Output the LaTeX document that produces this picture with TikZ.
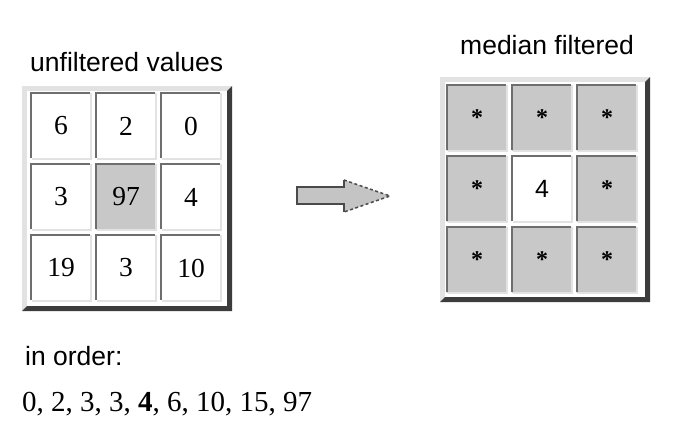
\documentclass[tikz,border=0pt]{standalone}
\usepackage{fontspec}
\setmainfont{Liberation Serif}
\newfontfamily\arialf{Liberation Sans}
\definecolor{cellgray}{HTML}{C8C8C8}
\definecolor{framelight}{HTML}{E2E2E2}
\definecolor{frameshadow}{HTML}{3C3C3C}
\definecolor{celldark}{HTML}{6E6E6E}
\definecolor{celllight}{HTML}{E2E2E2}
\definecolor{arrowfill}{HTML}{C4C4C4}
\definecolor{arrowline}{HTML}{4A4A4A}
\tikzset{
  cellbox/.style={minimum width=60pt, minimum height=66pt, inner sep=0pt, fill=white,
    font=\fontsize{27.5}{30}\selectfont},
  shadedcell/.style={cellbox, fill=cellgray},
  starcell/.style={shadedcell, font=\bfseries\fontsize{24}{26}\selectfont},
  sanslabel/.style={font=\arialf\fontsize{26.5}{30}\selectfont, inner sep=0pt},
  seriflabel/.style={font=\fontsize{29}{32}\selectfont, inner sep=0pt},
  darkedge/.style={draw=celldark, line width=1.6pt},
  lightedge/.style={draw=celllight, line width=1.6pt},
}
\newcommand{\myframe}[2]{%
  \fill[framelight] (#1,#2) rectangle ++(210,225);
  \fill[frameshadow] (#1+210,#2) -- (#1+210,#2+225) -- (#1,#2+225)
     -- (#1+5,#2+220) -- (#1+205,#2+220) -- (#1+205,#2+5) -- cycle;
  \fill[white] (#1+5,#2+5) rectangle (#1+205,#2+220);
}
\newcommand{\myedges}[1]{%
  \draw[darkedge] ([yshift=0.8pt]#1.south west) -- (#1.north west) -- ([xshift=-0.8pt]#1.north east);
  \draw[lightedge] (#1.north east) -- (#1.south east) -- ([xshift=0.8pt]#1.south west);
}
\newcommand{\cellstar}{\raisebox{-2pt}{*}}
\begin{document}
\begin{tikzpicture}[x=1pt,y=-1pt]
\useasboundingbox[fill=white] (0,0) rectangle (675,441);

% titles
\node[sanslabel, anchor=base west] (t1) at (30,72) {unfiltered values};
\node[sanslabel, anchor=base west] (t2) at (460,55) {median filtered};

% left table
\myframe{22}{86}
\node[cellbox] (a11) at (61,126) {6};
\node[cellbox] (a12) at (126,126) {2};
\node[cellbox] (a13) at (191,126) {0};
\node[cellbox] (a21) at (61,197) {3};
\node[shadedcell] (a22) at (126,197) {97};
\node[cellbox] (a23) at (191,197) {4};
\node[cellbox] (a31) at (61,268) {19};
\node[cellbox] (a32) at (126,268) {3};
\node[cellbox] (a33) at (191,268) {10};
\foreach \n in {a11,a12,a13,a21,a22,a23,a31,a32,a33} {\myedges{\n}}

% right table
\myframe{440}{77}
\node[starcell] (b11) at (477,118) {\cellstar};
\node[starcell] (b12) at (542,118) {\cellstar};
\node[starcell] (b13) at (607,118) {\cellstar};
\node[starcell] (b21) at (477,189) {\cellstar};
\node[cellbox, font=\arialf\fontsize{25}{28}\selectfont] (b22) at (542,189) {4};
\node[starcell] (b23) at (607,189) {\cellstar};
\node[starcell] (b31) at (477,260) {\cellstar};
\node[starcell] (b32) at (542,260) {\cellstar};
\node[starcell] (b33) at (607,260) {\cellstar};
\foreach \n in {b11,b12,b13,b21,b22,b23,b31,b32,b33} {\myedges{\n}}

% block arrow
\coordinate (s1) at (297,187);
\coordinate (s2) at (344,187);
\coordinate (h1) at (344,180);
\coordinate (tip) at (390,196);
\coordinate (h2) at (344,212);
\coordinate (s3) at (344,204);
\coordinate (s4) at (297,204);
\fill[arrowfill] (s1) -- (s2) -- (h1) -- (tip) -- (h2) -- (s3) -- (s4) -- cycle;
\draw[arrowline, line width=2pt, line join=miter] (h1) -- (s2) -- (s1) -- (s4) -- (s3) -- (h2);
\draw[arrowline, line width=1.5pt, dash pattern=on 3pt off 2.5pt] (h1) -- (tip) -- (h2);

% bottom text
\node[sanslabel, anchor=base west] (o1) at (25,365) {in order:};
\node[seriflabel, anchor=base west] (o2) at (22,411) {0, 2, 3, 3, \textbf{4}, 6, 10, 15, 97};
\end{tikzpicture}
\end{document}
